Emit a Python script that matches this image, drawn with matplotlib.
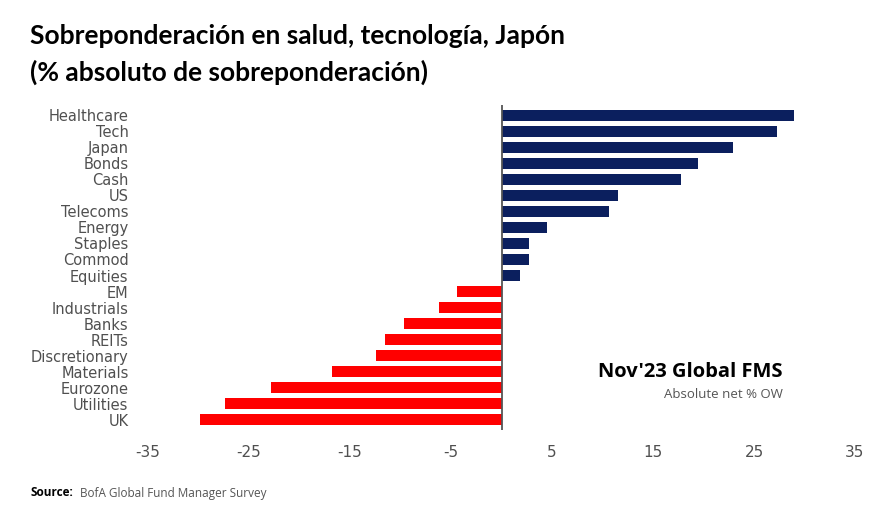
import matplotlib
matplotlib.use("Agg")
import matplotlib.pyplot as plt
import numpy as np

# Datos (Nov'23 Global FMS, % neto absoluto OW)
categorias = ["Healthcare", "Tech", "Japan", "Bonds", "Cash", "US", "Telecoms",
              "Energy", "Staples", "Commod", "Equities", "EM", "Industrials",
              "Banks", "REITs", "Discretionary", "Materials", "Eurozone",
              "Utilities", "UK"]
valores = [29.0, 27.3, 22.9, 19.5, 17.8, 11.5, 10.6, 4.5, 2.7, 2.7, 1.8,
           -4.4, -6.2, -9.7, -11.5, -12.4, -16.8, -22.8, -27.4, -29.9]
ticks_x = [-35, -25, -15, -5, 5, 15, 25, 35]

AZUL = "#0b1f5e"
ROJO = "#ff0000"
GRIS = "#505050"

fig = plt.figure(figsize=(8.86, 5.24), dpi=100)
ax = fig.add_axes([148 / 886, 1 - 430 / 524, (855 - 148) / 886, (430 - 105) / 524])

y = np.arange(len(categorias))
colores = [AZUL if v > 0 else ROJO for v in valores]
ax.barh(y, valores, height=0.68, color=colores, zorder=2)
ax.axvline(0, color="#555555", linewidth=1.3, zorder=3)

ax.set_xlim(-35, 35)
ax.set_ylim(len(categorias) - 0.35, -0.65)
ax.set_xticks(ticks_x)
ax.set_xticklabels([str(t) for t in ticks_x])
ax.set_yticks(y)
ax.set_yticklabels(categorias)

for s in ax.spines.values():
    s.set_visible(False)
ax.tick_params(axis="both", length=0)
ax.tick_params(axis="x", pad=11, labelsize=11, labelcolor=GRIS)
ax.tick_params(axis="y", pad=14, labelsize=10.5, labelcolor=GRIS)

# Titulo
fig.text(30 / 886, 1 - 36 / 524, "Sobreponderación en salud, tecnología, Japón",
         fontsize=19, fontweight="bold", family="Lato", va="center", ha="left")
fig.text(30 / 886, 1 - 72 / 524, "(% absoluto de sobreponderación)",
         fontsize=19, fontweight="bold", family="Lato", va="center", ha="left")

# Anotacion
fig.text(783 / 886, 1 - 372 / 524, "Nov'23 Global FMS", fontsize=14.5,
         fontweight="bold", family="Open Sans", ha="right", va="center")
fig.text(783 / 886, 1 - 395 / 524, "Absolute net % OW", fontsize=9.5,
         color="#555555", family="Open Sans", ha="right", va="center")

# Fuente
fig.text(30 / 886, 1 - 493 / 524, "Source:", fontsize=8.5, fontweight="bold",
         family="Open Sans", ha="left", va="center")
fig.text(80 / 886, 1 - 493 / 524, "BofA Global Fund Manager Survey", fontsize=8.5,
         color="#555555", family="Open Sans", ha="left", va="center")

fig.savefig("out.png", dpi=100)
